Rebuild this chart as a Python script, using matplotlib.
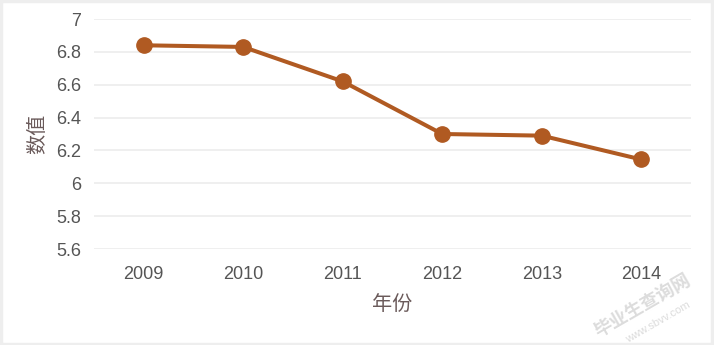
import matplotlib
matplotlib.use('Agg')
import matplotlib.pyplot as plt
from matplotlib.patches import Rectangle

years = ['2009', '2010', '2011', '2012', '2013', '2014']
values = [6.84, 6.83, 6.62, 6.30, 6.29, 6.145]
yticks = [5.6, 5.8, 6.0, 6.2, 6.4, 6.6, 6.8, 7.0]
ytick_labels = ['5.6', '5.8', '6', '6.2', '6.4', '6.6', '6.8', '7']

plt.rcParams['font.family'] = ['Liberation Sans', 'Noto Sans CJK SC', 'DejaVu Sans']

fig = plt.figure(figsize=(7.14, 3.45), dpi=100, facecolor='white')
ax = fig.add_axes([94/714, 1 - 249/345, (691 - 94)/714, (249 - 19)/345])

x = list(range(len(years)))
ax.plot(x, values, '-o', color='#b05a22', linewidth=2.9,
        markersize=11, markerfacecolor='#b05a22', markeredgecolor='#b05a22',
        zorder=3, solid_capstyle='round')

ax.set_xlim(-0.5, len(years) - 0.5)
ax.set_ylim(5.6, 7.0)
ax.set_yticks(yticks)
ax.set_yticklabels(ytick_labels, fontsize=13, color='#555555')
ax.set_xticks(x)
ax.set_xticklabels(years, fontsize=13, color='#555555')
ax.tick_params(axis='both', length=0)
ax.tick_params(axis='y', pad=9)
ax.tick_params(axis='x', pad=12)

ax.grid(True, axis='y', color='#efefef', linewidth=1.4)
ax.set_axisbelow(True)
for s in ax.spines.values():
    s.set_visible(False)

ax.set_ylabel('数值', fontsize=14.5, color='#6a5a5a',
              family=['Noto Sans CJK SC', 'DejaVu Sans'], labelpad=6)
ax.set_xlabel('年份', fontsize=14.5, color='#6a5a5a',
              family=['Noto Sans CJK SC', 'DejaVu Sans'], labelpad=8)

# watermark
fig.text(642/714, 1 - 305/345, '毕业生查询网', fontsize=13, color='#dcdcdc',
         rotation=30, ha='center', va='center', fontweight='bold',
         family=['Noto Sans CJK SC', 'DejaVu Sans'])
fig.text(658/714, 1 - 322/345, 'www.sbvv.com', fontsize=8, color='#dcdcdc',
         rotation=30, ha='center', va='center')

# light frame around the image
fig.patches.append(Rectangle((0.001, 0.002), 0.996, 0.994, transform=fig.transFigure,
                             fill=False, edgecolor='#eeeeee', linewidth=2.5))

fig.savefig('out.png', dpi=100, facecolor='white')
